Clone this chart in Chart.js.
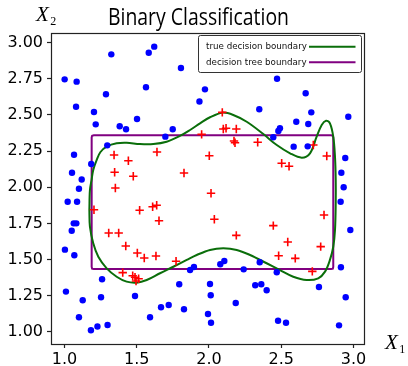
<!DOCTYPE html>
<html><head><meta charset="utf-8">
<script src="https://cdn.jsdelivr.net/npm/chart.js@4.4.1/dist/chart.umd.min.js"></script>
<style>html,body{margin:0;padding:0;background:#fff;overflow:hidden}#wrap{width:408px;height:366px;position:relative}</style>
</head><body><div id="wrap"><canvas id="c" width="408" height="366"></canvas></div>
<script>
const titleText = 'Binary Classification';
const xTicks = [1.0, 1.5, 2.0, 2.5, 3.0];
const yTicks = [1.00, 1.25, 1.50, 1.75, 2.00, 2.25, 2.50, 2.75, 3.00];

const blueX = [1.001,1.084,1.324,1.583,1.621,1.806,1.080,1.287,1.564,1.204,1.216,1.382,1.426,1.502,1.698,1.749,1.934,1.296,1.066,1.185,1.052,1.119,2.471,1.972,2.669,2.348,2.708,2.964,2.604,2.687,2.491,2.480,2.445,2.586,2.683,2.943,2.916,1.100,1.022,1.087,1.064,1.082,1.050,1.003,1.068,1.869,1.896,1.260,1.010,1.126,1.253,1.488,1.794,1.100,1.592,1.668,1.721,1.827,1.183,1.228,1.298,2.932,2.911,2.978,2.078,2.106,2.240,2.351,2.469,2.913,2.007,2.012,2.320,2.362,2.399,2.761,2.946,2.185,1.993,2.014,2.478,2.533,2.900];
const blueY = [2.746,2.730,2.919,2.930,2.972,2.824,2.557,2.643,2.691,2.520,2.435,2.422,2.401,2.472,2.350,2.401,2.593,2.290,2.225,2.161,2.101,2.054,2.750,2.677,2.650,2.539,2.518,2.488,2.453,2.437,2.408,2.389,2.346,2.281,2.283,2.202,2.101,1.990,1.900,1.900,1.751,1.751,1.700,1.569,1.530,1.428,1.449,1.364,1.279,1.219,1.240,1.249,1.330,1.102,1.102,1.171,1.187,1.157,1.012,1.038,1.048,2.000,1.900,1.705,1.468,1.491,1.433,1.482,1.413,1.447,1.332,1.254,1.323,1.330,1.288,1.311,1.240,1.200,1.124,1.064,1.078,1.064,1.046];

const redX = [1.343,1.442,1.640,1.347,1.476,1.827,2.092,1.949,2.099,2.118,2.189,2.173,2.180,2.337,2.002,2.722,2.815,2.503,2.554,1.352,1.204,1.520,1.610,1.638,1.654,1.306,1.375,1.424,1.504,1.552,1.633,1.772,1.403,1.472,1.488,1.513,1.495,2.014,2.037,2.189,2.445,2.796,2.545,2.773,2.482,2.597,2.715];
const redY = [2.223,2.184,2.244,2.104,2.076,2.099,2.518,2.366,2.403,2.408,2.403,2.320,2.308,2.311,2.218,2.292,2.216,2.166,2.145,1.995,1.845,1.841,1.866,1.876,1.769,1.684,1.684,1.594,1.546,1.511,1.525,1.489,1.410,1.389,1.378,1.368,1.352,1.959,1.779,1.668,1.735,1.809,1.622,1.590,1.527,1.509,1.419];

const trueX = [1.172,1.176,1.188,1.199,1.223,1.249,1.292,1.361,1.430,1.522,1.615,1.707,1.799,1.869,1.938,2.007,2.092,2.168,2.261,2.376,2.469,2.561,2.642,2.699,2.745,2.780,2.810,2.837,2.860,2.872,2.877,2.877,2.872,2.860,2.837,2.803,2.756,2.676,2.583,2.491,2.399,2.284,2.192,2.099,2.007,1.915,1.846,1.753,1.661,1.569,1.500,1.430,1.361,1.292,1.234,1.199,1.176,1.172];
const trueY = [1.843,1.981,2.055,2.120,2.189,2.244,2.281,2.304,2.308,2.299,2.299,2.315,2.355,2.396,2.442,2.484,2.516,2.500,2.453,2.368,2.292,2.235,2.205,2.235,2.350,2.431,2.460,2.442,2.350,2.211,2.050,1.889,1.705,1.589,1.498,1.417,1.371,1.359,1.382,1.428,1.475,1.532,1.567,1.578,1.567,1.532,1.498,1.451,1.406,1.359,1.341,1.348,1.382,1.440,1.520,1.613,1.728,1.843];

const treeX = [1.188,1.188,1.191,1.203,2.845,2.857,2.860,2.860,2.857,2.845,1.203,1.191,1.188];
const treeY = [1.450,2.345,2.356,2.359,2.359,2.356,2.345,1.450,1.438,1.435,1.435,1.438,1.450];

const legendLabels = ['true decision boundary', 'decision tree boundary'];
const legendColors = ['#0a6e0a', '#800080'];

const pts = (xs, ys) => xs.map((x, i) => ({x: x, y: ys[i]}));

function drawVar(ctx, sub, x, y) {
  ctx.font = 'italic 21px "Liberation Serif"';
  ctx.fillText('X', x, y);
  const w = ctx.measureText('X').width;
  ctx.font = '12px "Liberation Serif"';
  ctx.fillText(sub, x + w + 1.5, y + 4);
}

const decor = {
  id: 'decor',
  afterDatasetsDraw(chart) {
    const ctx = chart.ctx, a = chart.chartArea;
    ctx.save();
    // frame
    ctx.strokeStyle = '#222'; ctx.lineWidth = 1.2;
    ctx.strokeRect(Math.round(a.left) + 0.5, Math.round(a.top) + 0.5, Math.round(a.right - a.left), Math.round(a.bottom - a.top));
    // legend
    const lx = 198.5, ly = 35.5, lw = 163, lh = 37;
    ctx.beginPath();
    ctx.roundRect(lx, ly, lw, lh, 2);
    ctx.fillStyle = '#fff'; ctx.fill();
    ctx.strokeStyle = '#333'; ctx.lineWidth = 1; ctx.stroke();
    ctx.font = '10px "DejaVu Sans"';
    const w0 = ctx.measureText(legendLabels[0]).width;
    const fs = 10 * 101 / w0;
    ctx.font = fs.toFixed(2) + 'px "DejaVu Sans"';
    ctx.textBaseline = 'middle'; ctx.textAlign = 'left'; ctx.fillStyle = '#111';
    const rows = [46.7, 62.3];
    legendLabels.forEach((t, i) => {
      ctx.fillText(t, 206, rows[i]);
      ctx.beginPath(); ctx.strokeStyle = legendColors[i]; ctx.lineWidth = 2;
      ctx.moveTo(309, rows[i]); ctx.lineTo(355.5, rows[i]); ctx.stroke();
    });
    // title (condensed to the reference width)
    ctx.font = '24px "Open Sans"';
    const tw = ctx.measureText(titleText).width;
    ctx.fillStyle = '#000'; ctx.textAlign = 'left'; ctx.textBaseline = 'alphabetic';
    ctx.save();
    ctx.translate(108, 25);
    ctx.scale(181 / tw, 1);
    ctx.fillText(titleText, 0, 0);
    ctx.restore();
    // axis labels
    ctx.textAlign = 'left';
    drawVar(ctx, '2', 36, 21);
    drawVar(ctx, '1', 385, 348.5);
    ctx.restore();
  }
};

const tickFont = {family: '"DejaVu Sans"', size: 16};
new Chart(document.getElementById('c'), {
  type: 'scatter',
  data: {datasets: [
    {label: 'class 0', data: pts(blueX, blueY), pointStyle: 'circle', pointRadius: 3.2, backgroundColor: '#0000ff', borderColor: '#0000ff', borderWidth: 0, order: 0},
    {label: 'class 1', data: pts(redX, redY), pointStyle: 'cross', pointRadius: 4.2, backgroundColor: '#ff0000', borderColor: '#ff0000', borderWidth: 1.6, order: 0},
    {label: legendLabels[0], data: pts(trueX, trueY), showLine: true, pointRadius: 0, borderColor: legendColors[0], borderWidth: 2, tension: 0.35, fill: false, order: 2},
    {label: legendLabels[1], data: pts(treeX, treeY), showLine: true, pointRadius: 0, borderColor: legendColors[1], borderWidth: 2, tension: 0, fill: false, order: 3}
  ]},
  options: {
    responsive: false, animation: false, devicePixelRatio: 1,
    layout: {padding: {top: 33, right: 44, left: 0, bottom: 0}},
    plugins: {legend: {display: false}, tooltip: {enabled: false}, title: {display: false}},
    scales: {
      x: {type: 'linear', min: 0.9066, max: 3.0727,
        afterBuildTicks: s => { s.ticks = xTicks.map(v => ({value: v})); },
        afterFit: s => { s.height = 22; },
        ticks: {font: tickFont, color: '#000', padding: 2, maxRotation: 0, autoSkip: false, callback: v => Number(v).toFixed(1)},
        grid: {display: true, drawOnChartArea: false, drawTicks: true, tickLength: 4, tickColor: '#222', tickWidth: 1.2},
        border: {display: false}},
      y: {type: 'linear', min: 0.917, max: 3.0664,
        afterBuildTicks: s => { s.ticks = yTicks.map(v => ({value: v})); },
        afterFit: s => { s.width = 51; },
        ticks: {font: tickFont, color: '#000', padding: 4, autoSkip: false, callback: v => Number(v).toFixed(2)},
        grid: {display: true, drawOnChartArea: false, drawTicks: true, tickLength: 4, tickColor: '#222', tickWidth: 1.2},
        border: {display: false}}
    }
  },
  plugins: [decor]
});
</script></body></html>
